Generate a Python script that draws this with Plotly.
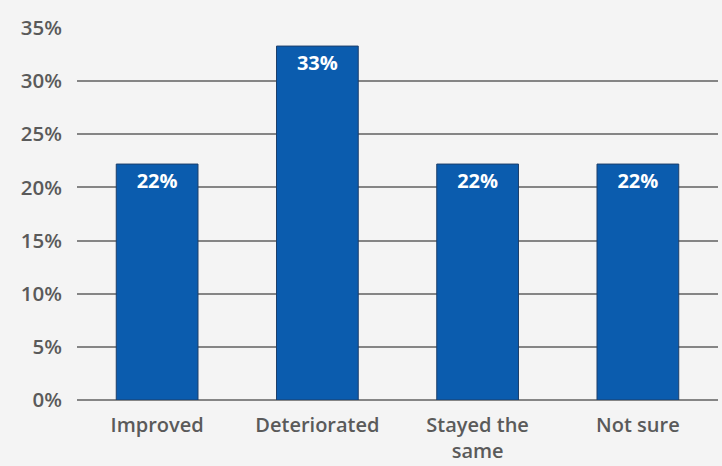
import plotly.graph_objects as go

categories = ["Improved", "Deteriorated", "Stayed the<br>same", "Not sure"]
values = [22.2, 33.3, 22.2, 22.2]
labels = ["22%", "33%", "22%", "22%"]
y_ticks = [0, 5, 10, 15, 20, 25, 30, 35]
y_tick_labels = ["0%", "5%", "10%", "15%", "20%", "25%", "30%", "35%"]

fig = go.Figure(go.Bar(
    x=categories, y=values, text=labels,
    textposition="inside", insidetextanchor="end",
    textfont=dict(color="white", size=20, family="Open Sans", weight=700),
    marker=dict(color="#0b5cae", line=dict(color="#1d3f6a", width=1)),
    width=0.51,
))

fig.update_layout(
    width=722, height=466,
    margin=dict(l=77, r=4, t=28, b=66),
    paper_bgcolor="#f4f4f4", plot_bgcolor="#f4f4f4",
    showlegend=False,
    font=dict(family="Open Sans", color="#5a5a5a", size=20, weight=600),
    bargap=0.49,
)
fig.update_yaxes(range=[0, 35], tickvals=y_ticks, ticktext=y_tick_labels,
                 automargin=False,
                 showgrid=True, gridcolor="#858585", gridwidth=1.6,
                 zeroline=True, zerolinecolor="#858585", zerolinewidth=1.6,
                 ticklabelstandoff=14,
                 tickfont=dict(size=20.5, color="#5a5a5a", family="Open Sans", weight=600))
fig.update_xaxes(showgrid=False, ticklabelstandoff=11, automargin=False,
                 tickfont=dict(size=20, color="#5a5a5a", family="Open Sans", weight=600))

fig.write_html("out.html")
